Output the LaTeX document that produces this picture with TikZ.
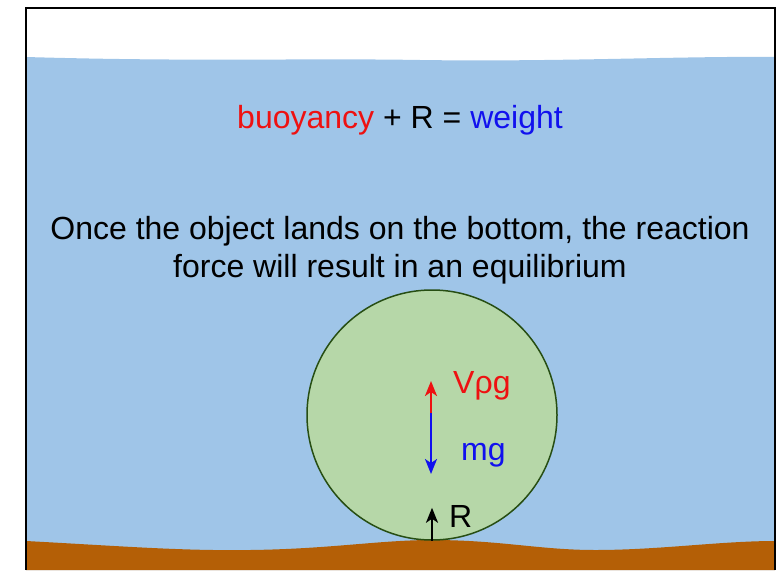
\documentclass[tikz,border=0pt]{standalone}
\usepackage{fontspec}
\setmainfont{Liberation Sans}
\usetikzlibrary{arrows.meta,positioning,calc}
\definecolor{WaterBlue}{HTML}{9FC5E8}
\definecolor{GroundBrown}{HTML}{B45F06}
\definecolor{BallGreen}{HTML}{B6D7A8}
\definecolor{BallEdge}{HTML}{274E13}
\definecolor{ForceRed}{HTML}{EE1111}
\definecolor{ForceBlue}{HTML}{1111EE}
\tikzset{
    % Text on the picture
    caption/.style={
        font=\fontsize{32}{38}\selectfont,
        text=black,
        align=center,
        inner sep=0pt,
        anchor=base
    },
    force label/.style={
        font=\fontsize{32}{38}\selectfont,
        inner sep=0pt,
        anchor=base west
    },
    % The sunken object
    ball/.style={
        circle,
        draw=BallEdge,
        line width=1.5pt,
        fill=BallGreen,
        minimum size=250pt,
        inner sep=0pt
    },
    force/.style={
        -{Stealth[length=15pt,width=12pt,inset=4pt]},
        line width=2.2pt
    }
}
\begin{document}
\begin{tikzpicture}[x=1pt,y=-1pt]
    \useasboundingbox (0,0) rectangle (781,570);

    % Water
    \fill[WaterBlue] (26,57) .. controls (200,62) and (300,58) .. (420,60)
        .. controls (560,62) and (680,56) .. (775,57) -- (775,570) -- (26,570) -- cycle;

    % Ground
    \fill[GroundBrown] (26,541) .. controls (120,546) and (180,551) .. (250,550)
        .. controls (330,549) and (380,540) .. (432,540)
        .. controls (500,540) and (540,550) .. (595,550)
        .. controls (660,550) and (720,541) .. (775,541) -- (775,570) -- (26,570) -- cycle;

    % Frame
    \draw[line width=2pt] (26,570) -- (26,8) -- (775,8) -- (775,570);

    % Texts
    \node[caption] (equation) at (400,128)
        {\textcolor{ForceRed}{buoyancy} + R = \textcolor{ForceBlue}{weight}};
    \node[caption] (remark) at (400,277)
        {Once the object lands on the bottom, the reaction\\force will result in an equilibrium};

    % Object
    \node[ball] (object) at (432,415) {};
    \coordinate (centre) at (431,413);
    \coordinate (bottom) at (object.south);

    % Forces
    \draw[force, ForceRed] (centre) -- ++(0,-32) coordinate (upthrust);
    \draw[force, ForceBlue] (centre) -- ++(0,61) coordinate (gravity);
    \draw[force, black] (bottom) -- ++(0,-33) coordinate (reaction);

    \node[force label, text=ForceRed] (vrhog) at (453,393) {Vρg};
    \node[force label, text=ForceBlue] (mg) at (461,460) {mg};
    \node[force label] (r) at (449,527) {R};
\end{tikzpicture}
\end{document}
